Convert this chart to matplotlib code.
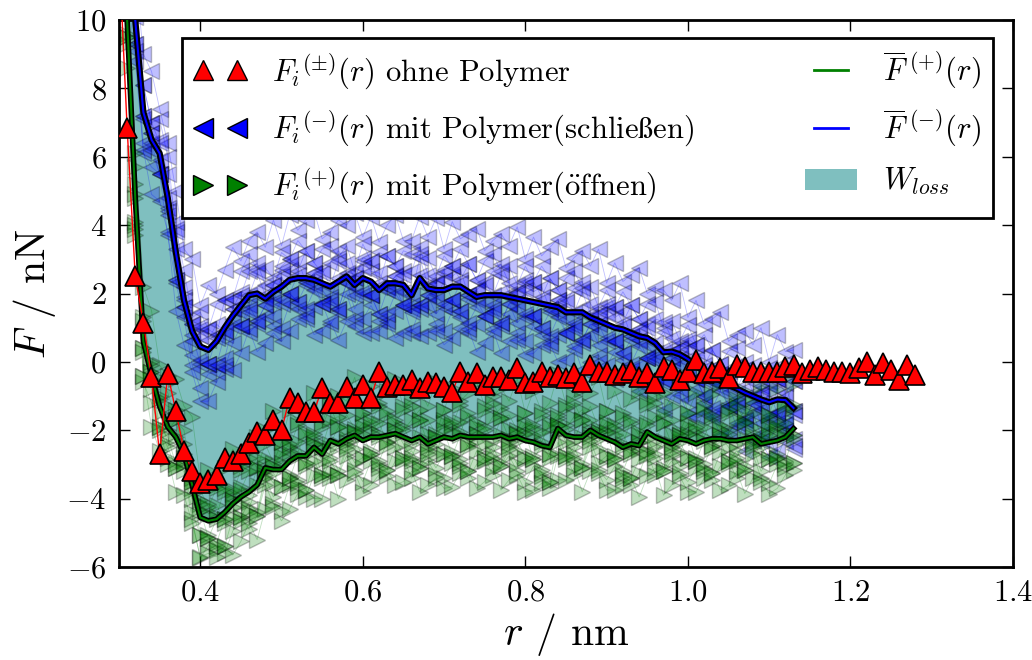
import numpy as np
import matplotlib
matplotlib.use('Agg')
import matplotlib.pyplot as plt
from matplotlib.lines import Line2D
from matplotlib.patches import Patch

# r grid of the simulation runs and of the reference curve (nm)
r_runs = np.round(np.arange(0.31, 1.1349, 0.01), 2)
r_ref = np.round(np.arange(0.30, 1.2849, 0.01), 2)

# mean force closing (-) / opening (+), nN
F_minus = [12.5, 10.0, 7.3, 6.5, 6.1, 4.8, 3.2, 1.8, 0.9, 0.45,
           0.35, 0.6, 1.0, 1.35, 1.65, 1.95, 2.0, 1.85, 2.05, 2.2,
           2.4, 2.45, 2.45, 2.4, 2.3, 2.2, 2.35, 2.5, 2.25, 2.45,
           2.35, 2.1, 2.3, 2.3, 2.25, 1.95, 2.45, 2.15, 2.1, 2.1,
           2.2, 2.2, 2.05, 1.9, 1.95, 1.95, 1.95, 1.9, 1.85, 1.8,
           1.75, 1.7, 1.65, 1.6, 1.45, 1.45, 1.45, 1.3, 1.2, 1.1,
           1.0, 0.95, 0.85, 0.75, 0.7, 0.55, 0.28, 0.3, 0.22, 0.08,
           -0.1, -0.3, -0.45, -0.55, -0.68, -0.78, -0.9, -1.0, -1.1, -1.18,
           -1.1, -1.12, -1.35]
F_plus = [10.0, 4.8, 0.6, -0.4, -1.3, -1.9, -2.2, -2.7, -3.6, -4.55,
          -4.65, -4.6, -4.4, -4.15, -3.95, -3.8, -3.6, -3.1, -3.15, -3.15,
          -2.9, -2.75, -2.75, -2.5, -2.7, -2.3, -2.4, -2.25, -2.15, -2.3,
          -2.2, -2.2, -2.15, -2.1, -2.2, -2.3, -2.2, -2.4, -2.3, -2.2,
          -2.25, -2.15, -2.2, -2.2, -2.2, -2.2, -2.15, -2.25, -2.2, -2.3,
          -2.35, -2.45, -2.5, -1.95, -2.15, -2.2, -2.2, -2.0, -2.15, -2.25,
          -2.35, -2.5, -2.4, -2.45, -2.05, -2.2, -2.3, -2.4, -2.25, -2.3,
          -2.4, -2.3, -2.25, -2.25, -2.3, -2.3, -2.25, -2.2, -2.4, -2.35,
          -2.3, -2.2, -1.95]

# single runs with polymer, closing
close_1 = [14.4, 11.4, 9.0, 8.5, 7.4, 6.4, 5.0, 3.3, 3.0, 1.65,
           2.25, 2.0, 2.7, 3.35, 2.95, 3.55, 3.8, 3.35, 4.15, 3.4,
           4.3, 3.85, 4.15, 4.4, 3.6, 3.8, 4.15, 4.0, 4.35, 3.65,
           4.25, 3.5, 4.0, 4.3, 3.55, 3.55, 4.25, 3.65, 4.2, 3.3,
           4.1, 3.6, 3.75, 3.9, 3.25, 3.55, 3.75, 3.4, 3.95, 3.0,
           3.65, 3.1, 3.35, 3.6, 2.75, 3.05, 3.25, 2.8, 3.3, 2.3,
           2.9, 2.35, 2.55, 2.75, 2.0, 2.15, 2.1, 1.8, 2.3, 1.3,
           1.8, 1.1, 1.25, 1.45, 0.6, 0.8, 0.9, 0.5, 1.0, 0.0,
           0.8, 0.3, 0.35]
close_2 = [13.1, 11.1, 8.1, 7.0, 7.1, 6.0, 3.9, 2.7, 1.3, 1.45,
           0.95, 1.7, 1.8, 1.85, 2.65, 3.15, 2.7, 2.75, 2.45, 3.2,
           3.0, 3.55, 3.25, 2.9, 3.3, 3.4, 3.05, 3.4, 2.65, 3.45,
           2.95, 3.2, 3.1, 2.8, 3.25, 3.15, 3.15, 3.05, 2.5, 3.1,
           2.8, 3.3, 2.85, 2.4, 2.95, 3.15, 2.65, 2.8, 2.25, 2.8,
           2.35, 2.8, 2.45, 2.1, 2.45, 2.65, 2.15, 2.2, 1.6, 2.1,
           1.6, 2.05, 1.65, 1.25, 1.7, 1.75, 0.98, 1.2, 0.62, 1.08,
           0.5, 0.8, 0.35, -0.05, 0.32, 0.42, -0.2, -0.1, -0.7, -0.18,
           -0.5, -0.02, -0.55]
close_3 = [12.8, 10.5, 7.2, 6.7, 6.5, 4.8, 3.8, 1.9, 1.1, 0.95,
           0.65, 1.1, 0.9, 1.55, 2.05, 1.95, 2.6, 1.95, 2.25, 2.7,
           2.7, 2.95, 2.35, 2.6, 2.7, 2.2, 2.95, 2.6, 2.45, 2.95,
           2.65, 2.6, 2.2, 2.5, 2.65, 1.95, 3.05, 2.25, 2.3, 2.6,
           2.5, 2.7, 1.95, 2.1, 2.35, 1.95, 2.55, 2.0, 2.05, 2.3,
           2.05, 2.2, 1.55, 1.8, 1.85, 1.45, 2.05, 1.4, 1.4, 1.6,
           1.3, 1.45, 0.75, 0.95, 1.1, 0.55, 0.88, 0.4, 0.42, 0.58,
           0.2, 0.2, -0.55, -0.35, -0.28, -0.78, -0.3, -0.9, -0.9, -0.68,
           -0.8, -0.62, -1.45]
close_4 = [12.1, 9.3, 7.1, 6.4, 5.5, 4.5, 2.4, 1.6, 0.8, -0.05,
           -0.05, -0.1, 0.8, 1.25, 1.05, 1.65, 1.2, 1.65, 1.95, 1.7,
           2.0, 1.75, 2.25, 2.3, 1.7, 1.9, 1.55, 2.3, 2.15, 1.95,
           1.95, 1.4, 2.1, 2.2, 1.65, 1.65, 1.65, 1.95, 2.0, 1.6,
           1.8, 1.5, 1.85, 1.8, 1.35, 1.65, 1.15, 1.7, 1.75, 1.3,
           1.35, 1.0, 1.45, 1.5, 0.85, 1.15, 0.65, 1.1, 1.1, 0.6,
           0.6, 0.25, 0.65, 0.65, 0.1, 0.25, -0.52, 0.1, 0.12, -0.42,
           -0.5, -1.0, -0.65, -0.65, -1.28, -1.08, -1.7, -1.2, -1.2, -1.68,
           -1.5, -1.82, -1.55]
close_5 = [11.8, 9.1, 6.1, 5.7, 5.5, 3.7, 2.3, 1.3, -0.1, -0.75,
           -0.35, -0.3, -0.2, 0.55, 1.05, 0.85, 1.1, 1.35, 1.05, 1.0,
           1.7, 1.55, 1.25, 1.6, 1.7, 1.1, 1.45, 2.0, 1.25, 1.25,
           1.65, 1.2, 1.1, 1.5, 1.65, 0.85, 1.55, 1.65, 1.1, 0.9,
           1.5, 1.3, 0.85, 1.1, 1.35, 0.85, 1.05, 1.4, 0.85, 0.6,
           1.05, 0.8, 0.45, 0.8, 0.85, 0.35, 0.55, 0.8, 0.2, -0.1,
           0.3, 0.05, -0.35, -0.05, 0.1, -0.55, -0.62, -0.2, -0.78, -1.12,
           -0.8, -1.2, -1.65, -1.35, -1.28, -1.88, -1.8, -1.5, -2.1, -2.38,
           -1.8, -2.02, -2.55]
close_6 = [11.0, 8.8, 6.2, 4.9, 4.7, 3.8, 1.5, 0.5, -0.3, -1.15,
           -1.15, -0.6, -0.1, -0.25, 0.25, 0.95, 0.3, 0.55, 0.85, 0.6,
           0.9, 1.25, 1.35, 0.8, 0.9, 1.2, 0.65, 1.2, 1.05, 0.85,
           0.85, 0.9, 1.2, 0.7, 0.85, 0.95, 0.75, 0.85, 0.9, 0.5,
           0.7, 1.0, 0.95, 0.3, 0.55, 0.95, 0.25, 0.6, 0.65, 0.2,
           0.25, 0.5, 0.55, 0.0, 0.05, 0.45, -0.25, 0.0, 0.0, -0.5,
           -0.5, -0.25, -0.25, -0.85, -0.7, -0.45, -1.42, -1.0, -0.98, -1.52,
           -1.6, -1.5, -1.55, -2.15, -2.08, -1.78, -2.6, -2.3, -2.3, -2.78,
           -2.6, -2.32, -2.45]
close_7 = [13.1, 10.2, 8.1, 7.0, 6.4, 5.5, 4.1, 2.2, 1.1, 1.05,
           0.95, 0.8, 1.8, 1.85, 1.95, 2.65, 2.9, 2.25, 2.25, 2.8,
           3.0, 2.65, 3.25, 2.9, 2.6, 2.9, 3.25, 2.9, 2.45, 3.05,
           2.95, 2.3, 3.1, 2.8, 2.55, 2.65, 3.35, 2.55, 2.3, 2.7,
           2.8, 2.4, 2.85, 2.4, 2.25, 2.65, 2.85, 2.3, 2.05, 2.4,
           2.35, 1.9, 2.45, 2.1, 1.75, 2.15, 2.35, 1.7, 1.4, 1.7,
           1.6, 1.15, 1.65, 1.25, 1.0, 1.25, 1.18, 0.7, 0.42, 0.68,
           0.5, -0.1, 0.35, -0.05, -0.38, -0.08, 0.0, -0.6, -0.9, -0.58,
           -0.5, -0.92, -0.55]
close_8 = [12.1, 10.1, 7.2, 6.7, 5.9, 4.4, 3.3, 1.8, 0.6, 0.75,
           -0.05, 0.7, 0.9, 1.55, 1.45, 1.55, 2.1, 1.85, 1.75, 2.5,
           2.0, 2.55, 2.35, 2.6, 2.1, 1.8, 2.45, 2.5, 1.95, 2.75,
           1.95, 2.2, 2.2, 2.5, 2.05, 1.55, 2.55, 2.15, 1.8, 2.4,
           1.8, 2.3, 1.95, 2.1, 1.75, 1.55, 2.05, 1.9, 1.55, 2.1,
           1.35, 1.8, 1.55, 1.8, 1.25, 1.05, 1.55, 1.3, 0.9, 1.4,
           0.6, 1.05, 0.75, 0.95, 0.5, 0.15, 0.38, 0.3, -0.08, 0.38,
           -0.5, -0.2, -0.55, -0.35, -0.88, -1.18, -0.8, -1.0, -1.4, -0.88,
           -1.5, -1.02, -1.45]
close_9 = [12.1, 9.3, 6.4, 6.2, 5.5, 4.3, 2.4, 1.6, 0.2, 0.05,
           -0.05, -0.1, 0.1, 1.05, 1.05, 1.45, 1.2, 1.65, 1.35, 1.8,
           2.0, 1.75, 1.55, 2.1, 1.7, 1.7, 1.55, 2.3, 1.55, 2.05,
           1.95, 1.4, 1.4, 2.0, 1.65, 1.45, 1.65, 1.95, 1.4, 1.7,
           1.8, 1.5, 1.15, 1.6, 1.35, 1.45, 1.15, 1.7, 1.15, 1.4,
           1.35, 1.0, 0.75, 1.3, 0.85, 0.95, 0.65, 1.1, 0.5, 0.7,
           0.6, 0.25, -0.05, 0.45, 0.1, 0.05, -0.52, 0.1, -0.48, -0.32,
           -0.5, -1.0, -1.35, -0.85, -1.28, -1.28, -1.7, -1.2, -1.8, -1.58,
           -1.5, -1.82, -2.25]

# single runs with polymer, opening
open_1 = [11.8, 6.1, 2.2, 1.5, -0.1, -0.4, -0.5, -1.3, -1.6, -3.45,
          -3.15, -3.6, -3.1, -2.55, -3.05, -2.6, -2.2, -2.0, -1.45, -2.35,
          -1.4, -1.75, -1.45, -0.9, -1.8, -1.1, -1.0, -1.15, -0.45, -1.5,
          -0.7, -1.2, -0.85, -0.5, -1.3, -1.1, -0.8, -1.3, -0.6, -1.4,
          -0.75, -1.15, -0.9, -0.6, -1.3, -1.0, -0.75, -1.15, -0.5, -1.5,
          -0.85, -1.45, -1.2, -0.35, -1.25, -1.0, -0.8, -0.9, -0.45, -1.45,
          -0.85, -1.5, -1.1, -0.85, -1.15, -1.0, -0.9, -1.3, -0.55, -1.5,
          -0.9, -1.3, -0.95, -0.65, -1.4, -1.1, -0.85, -1.1, -0.7, -1.55,
          -0.8, -1.2, -0.65]
open_2 = [10.4, 5.7, 1.2, -0.1, -0.5, -0.9, -1.7, -2.0, -3.4, -3.75,
          -4.25, -3.7, -3.8, -3.85, -3.15, -2.8, -3.1, -2.4, -2.95, -2.35,
          -2.5, -1.85, -2.15, -2.2, -1.9, -1.3, -1.9, -1.55, -1.95, -1.5,
          -1.8, -1.3, -1.55, -1.8, -1.4, -1.3, -1.7, -1.7, -2.1, -1.4,
          -1.85, -1.25, -1.6, -1.9, -1.4, -1.2, -1.65, -1.55, -2.0, -1.5,
          -1.95, -1.55, -1.9, -1.65, -1.35, -1.2, -1.7, -1.3, -1.95, -1.45,
          -1.95, -1.6, -1.8, -2.15, -1.25, -1.2, -1.8, -1.7, -2.05, -1.5,
          -2.0, -1.4, -1.65, -1.95, -1.5, -1.3, -1.75, -1.5, -2.2, -1.55,
          -1.9, -1.3, -1.35]
open_3 = [10.2, 5.2, 0.4, -0.3, -1.0, -2.0, -1.7, -2.7, -3.5, -4.15,
          -4.45, -4.2, -4.6, -4.05, -3.65, -3.9, -3.1, -3.1, -3.05, -2.75,
          -2.7, -2.35, -2.95, -2.4, -2.4, -2.4, -1.9, -2.25, -2.05, -1.9,
          -2.0, -1.8, -2.35, -2.0, -1.9, -2.4, -1.7, -2.4, -2.2, -1.8,
          -2.05, -1.75, -2.4, -2.1, -1.9, -2.3, -1.65, -2.25, -2.1, -1.9,
          -2.15, -2.05, -2.7, -1.85, -1.85, -2.3, -1.7, -2.0, -2.05, -1.85,
          -2.15, -2.1, -2.6, -2.35, -1.75, -2.3, -1.8, -2.4, -2.15, -1.9,
          -2.2, -1.9, -2.45, -2.15, -2.0, -2.4, -1.75, -2.2, -2.3, -1.95,
          -2.1, -1.8, -2.15]
open_4 = [9.6, 4.1, 0.4, -0.5, -1.9, -2.2, -3.0, -2.9, -3.7, -5.05,
          -5.05, -5.3, -4.6, -4.25, -4.55, -4.1, -4.4, -3.3, -3.25, -3.65,
          -3.3, -3.45, -2.95, -2.6, -3.3, -2.6, -3.2, -2.45, -2.25, -2.8,
          -2.6, -2.9, -2.35, -2.2, -2.8, -2.6, -3.0, -2.6, -2.4, -2.7,
          -2.65, -2.85, -2.4, -2.3, -2.8, -2.5, -2.95, -2.45, -2.3, -2.8,
          -2.75, -3.15, -2.7, -2.05, -2.75, -2.5, -3.0, -2.2, -2.25, -2.75,
          -2.75, -3.2, -2.6, -2.55, -2.65, -2.5, -3.1, -2.6, -2.35, -2.8,
          -2.8, -3.0, -2.45, -2.35, -2.9, -2.6, -3.05, -2.4, -2.5, -2.85,
          -2.7, -2.9, -2.15]
open_5 = [9.3, 3.9, -0.6, -1.2, -1.9, -3.0, -3.1, -3.2, -4.6, -5.75,
          -5.35, -5.5, -5.6, -4.95, -4.55, -4.9, -4.5, -3.6, -4.15, -4.35,
          -3.6, -3.65, -3.95, -3.3, -3.3, -3.4, -3.3, -2.75, -3.15, -3.5,
          -2.9, -3.1, -3.35, -2.9, -2.8, -3.4, -3.1, -2.9, -3.3, -3.4,
          -2.95, -3.05, -3.4, -3.0, -2.8, -3.3, -3.05, -2.75, -3.2, -3.5,
          -3.05, -3.35, -3.7, -2.75, -2.75, -3.3, -3.1, -2.5, -3.15, -3.45,
          -3.05, -3.4, -3.6, -3.25, -2.65, -3.3, -3.2, -2.9, -3.25, -3.5,
          -3.1, -3.2, -3.45, -3.05, -2.9, -3.4, -3.15, -2.7, -3.4, -3.55,
          -3.0, -3.1, -3.15]
open_6 = [8.6, 3.7, -0.4, -1.9, -2.6, -2.8, -3.8, -3.9, -4.7, -5.7,
          -5.6, -5.7, -5.4, -5.65, -5.25, -4.7, -5.2, -4.3, -4.25, -4.65,
          -4.3, -3.85, -3.75, -4.0, -4.0, -3.2, -4.0, -3.45, -3.25, -3.8,
          -3.6, -3.3, -3.15, -3.6, -3.5, -3.2, -3.8, -3.6, -3.4, -3.7,
          -3.65, -3.25, -3.2, -3.7, -3.5, -3.1, -3.75, -3.45, -3.3, -3.8,
          -3.75, -3.55, -3.5, -3.45, -3.45, -3.1, -3.8, -3.2, -3.25, -3.75,
          -3.75, -3.6, -3.4, -3.95, -3.35, -3.1, -3.9, -3.6, -3.35, -3.8,
          -3.8, -3.4, -3.25, -3.75, -3.6, -3.2, -3.85, -3.4, -3.5, -3.85,
          -3.7, -3.3, -2.95]
open_7 = [10.5, 4.9, 1.3, 0.0, -1.1, -1.3, -1.4, -2.4, -3.5, -4.05,
          -4.15, -4.5, -3.7, -3.75, -3.75, -3.2, -2.8, -2.8, -3.05, -2.65,
          -2.4, -2.65, -2.05, -2.1, -2.5, -1.7, -1.6, -1.95, -2.05, -1.8,
          -1.7, -2.1, -1.45, -1.7, -2.0, -1.7, -1.4, -2.1, -2.2, -1.7,
          -1.75, -2.05, -1.5, -1.8, -2.0, -1.6, -1.35, -1.95, -2.1, -1.8,
          -1.85, -2.35, -1.8, -1.55, -1.95, -1.6, -1.4, -1.7, -2.05, -1.75,
          -1.85, -2.4, -1.7, -2.05, -1.85, -1.6, -1.5, -2.1, -2.15, -1.8,
          -1.9, -2.2, -1.55, -1.85, -2.1, -1.7, -1.45, -1.9, -2.3, -1.85,
          -1.8, -2.1, -1.25]
open_8 = [9.5, 4.8, 0.3, -0.3, -1.5, -2.4, -2.2, -2.8, -4.0, -4.35,
          -5.15, -4.6, -4.7, -4.05, -4.15, -4.3, -3.6, -3.2, -3.55, -2.95,
          -3.4, -2.75, -3.05, -2.4, -2.9, -2.8, -2.4, -2.35, -2.55, -2.1,
          -2.7, -2.2, -2.45, -2.0, -2.4, -2.8, -2.2, -2.5, -2.7, -2.0,
          -2.75, -2.15, -2.5, -2.1, -2.4, -2.7, -2.15, -2.35, -2.6, -2.1,
          -2.85, -2.45, -2.8, -1.85, -2.35, -2.7, -2.2, -2.1, -2.55, -2.05,
          -2.85, -2.5, -2.7, -2.35, -2.25, -2.7, -2.3, -2.5, -2.65, -2.1,
          -2.9, -2.3, -2.55, -2.15, -2.5, -2.8, -2.25, -2.3, -2.8, -2.15,
          -2.8, -2.2, -2.25]
open_9 = [9.5, 4.0, -0.4, -0.8, -2.0, -2.5, -3.1, -3.0, -4.4, -5.05,
          -5.15, -5.4, -5.4, -4.55, -4.65, -4.4, -4.5, -3.4, -3.95, -3.65,
          -3.4, -3.55, -3.75, -2.9, -3.4, -2.9, -3.3, -2.55, -2.95, -2.8,
          -2.7, -3.0, -3.15, -2.5, -2.9, -2.9, -3.1, -2.7, -3.1, -2.7,
          -2.75, -2.95, -3.2, -2.6, -2.9, -2.8, -3.05, -2.55, -3.0, -2.8,
          -2.85, -3.25, -3.5, -2.35, -2.85, -2.8, -3.1, -2.3, -2.95, -2.75,
          -2.85, -3.3, -3.4, -2.85, -2.75, -2.8, -3.2, -2.7, -3.05, -2.8,
          -2.9, -3.1, -3.25, -2.65, -3.0, -2.9, -3.15, -2.5, -3.2, -2.85,
          -2.8, -3.0, -2.95]

# reference without polymer
F_ref = [12.0, 6.85, 2.5, 1.15, -0.45, -2.7, -0.35, -1.45, -2.6, -3.2,
         -3.55, -3.45, -3.3, -2.8, -2.9, -2.7, -2.37, -2.05, -2.13, -1.7,
         -2.0, -1.05, -1.2, -1.46, -1.46, -0.76, -1.2, -1.2, -0.73, -1.05,
         -0.67, -1.05, -0.29, -0.73, -0.67, -0.67, -0.53, -0.76, -0.58, -0.61,
         -0.73, -0.88, -0.29, -0.58, -0.32, -0.67, -0.44, -0.44, -0.53, -0.18,
         -0.61, -0.58, -0.29, -0.44, -0.38, -0.47, -0.32, -0.58, -0.09, -0.29,
         -0.29, -0.38, -0.32, -0.23, -0.44, -0.32, -0.61, -0.15, -0.23, -0.53,
         -0.29, 0.06, -0.32, -0.29, -0.18, -0.47, -0.09, -0.15, -0.29, -0.29,
         -0.29, -0.29, -0.15, -0.09, -0.32, -0.23, -0.15, -0.23, -0.29, -0.29,
         -0.32, -0.18, 0.0, -0.38, -0.03, -0.23, -0.53, -0.09, -0.38]

close_runs = [close_1, close_2, close_3, close_4, close_5, close_6,
              close_7, close_8, close_9]
open_runs = [open_1, open_2, open_3, open_4, open_5, open_6,
             open_7, open_8, open_9]


def main():
    plt.rcParams['font.family'] = ['cmr10', 'DejaVu Serif']
    plt.rcParams['mathtext.fontset'] = 'cm'
    plt.rcParams['axes.formatter.use_mathtext'] = True

    fig = plt.figure(figsize=(10.32, 6.6), dpi=100, facecolor='w')
    ax = fig.add_axes([0.1153, 0.1409, 0.8663, 0.8288])

    ax.fill_between(r_runs, F_plus, F_minus, color='teal', alpha=0.5,
                    lw=0, zorder=1)

    for run in close_runs:
        ax.plot(r_runs, run, '<-', color='b', lw=0.6, ms=12, mec='k',
                alpha=0.25, zorder=2)
    for run in open_runs:
        ax.plot(r_runs, run, '>-', color='g', lw=0.6, ms=12, mec='k',
                alpha=0.25, zorder=2)

    ax.plot(r_runs, F_minus, '-', color='k', lw=4.5, zorder=3)
    ax.plot(r_runs, F_minus, '-', color='b', lw=1.5, zorder=3)
    ax.plot(r_runs, F_plus, '-', color='k', lw=4.0, zorder=3)
    ax.plot(r_runs, F_plus, '-', color='g', lw=1.5, zorder=3)

    ax.plot(r_ref, F_ref, '^-', color='r', lw=1, ms=14, mec='k', mew=1.2,
            zorder=4)

    ax.set_xlim(0.3, 1.4)
    ax.set_ylim(-6, 10)
    ax.set_xticks([0.4, 0.6, 0.8, 1.0, 1.2, 1.4])
    ax.set_yticks([-6, -4, -2, 0, 2, 4, 6, 8, 10])
    ax.tick_params(direction='in', length=8, width=1, top=True, right=True,
                   labelsize=22, pad=9)
    for s in ax.spines.values():
        s.set_linewidth(2)

    ax.set_xlabel(r'$r$ / nm', fontsize=30, labelpad=3)
    ax.set_ylabel(r'$F$ / nN', fontsize=30, labelpad=6)

    handles = [
        Line2D([], [], ls='none', marker='^', color='r', mec='k', ms=14),
        Line2D([], [], ls='none', marker='<', color='b', mec='k', ms=14),
        Line2D([], [], ls='none', marker='>', color='g', mec='k', ms=14),
        Line2D([], [], color='g', lw=2),
        Line2D([], [], color='b', lw=2),
        Patch(facecolor='teal', alpha=0.5, edgecolor='none'),
    ]
    labels = [
        r'${F_i}^{(\pm)}(r)$ ohne Polymer',
        r'${F_i}^{(-)}(r)$ mit Polymer(schlie$\mathrm{\ss}$en)',
        r'${F_i}^{(+)}(r)$ mit Polymer($\ddot{\mathrm{o}}$ffnen)',
        r'$\overline{F}^{\;(+)}(r)$',
        r'$\overline{F}^{\;(-)}(r)$',
        r'$W_{loss}$',
    ]
    leg = ax.legend(handles, labels, ncol=2, numpoints=2, fontsize=22,
                    loc='upper left', mode='expand',
                    bbox_to_anchor=(0.0705, 0.638, 0.9075, 0.329),
                    borderaxespad=0, fancybox=False, framealpha=1,
                    edgecolor='k', handlelength=1.7, labelspacing=0.55,
                    handletextpad=0.85)
    leg.get_frame().set_linewidth(2)
    leg.set_zorder(10)

    fig.savefig('out.png', dpi=100, facecolor='w')


if __name__ == "__main__":
    main()
